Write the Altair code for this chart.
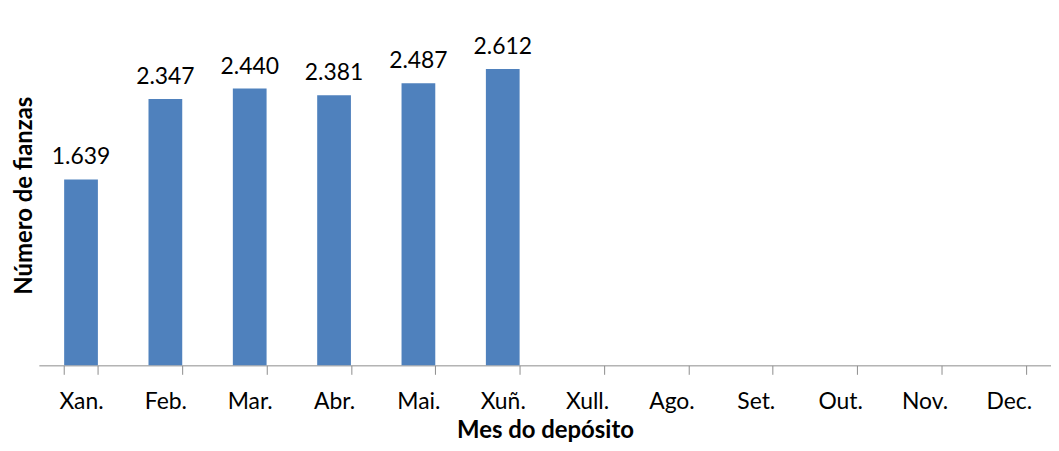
import altair as alt
import pandas as pd

months = ["Xan.", "Feb.", "Mar.", "Abr.", "Mai.", "Xuñ.", "Xull.", "Ago.", "Set.", "Out.", "Nov.", "Dec."]
values = [1639, 2347, 2440, 2381, 2487, 2612, None, None, None, None, None, None]

df = pd.DataFrame({"mes": months, "valor": values})
df["etiqueta"] = [("" if v is None or pd.isna(v) else f"{int(v):,}".replace(",", ".")) for v in df["valor"]]

FONT = "Lato"

x = alt.X("mes:N", sort=months,
          scale=alt.Scale(paddingInner=0.6, paddingOuter=0.3),
          axis=alt.Axis(title="Mes do depósito", labelAngle=0, tickBand="extent",
                        domainColor="#8c8c8c", tickColor="#8c8c8c", tickSize=9,
                        labelFontSize=23, labelFont=FONT, labelColor="#000000", labelPadding=16,
                        titleFontSize=24, titleFont=FONT, titleFontWeight="bold", titleColor="#000000",
                        titlePadding=6))
y = alt.Y("valor:Q", scale=alt.Scale(domain=[0, 3000]),
          axis=alt.Axis(title="Número de fianzas", labels=False, ticks=False, domain=False, grid=False,
                        titleFontSize=24, titleFont=FONT, titleFontWeight="bold", titleColor="#000000",
                        titlePadding=2))

bars = alt.Chart(df).mark_bar(color="#4F81BD").encode(x=x, y=y)
text = alt.Chart(df).mark_text(baseline="alphabetic", dy=-15, fontSize=23, font=FONT, color="#000000").encode(
    x=alt.X("mes:N", sort=months), y="valor:Q", text="etiqueta:N")

chart = (bars + text).properties(
    width=1017, height=342,
    background="#ffffff",
    autosize=alt.AutoSizeParams(type="none"),
    padding={"left": 31, "top": 16, "right": 0, "bottom": 84},
).configure_view(strokeWidth=0, stroke=None)

chart.save("out.html", embed_options={"renderer": "svg", "actions": False})
